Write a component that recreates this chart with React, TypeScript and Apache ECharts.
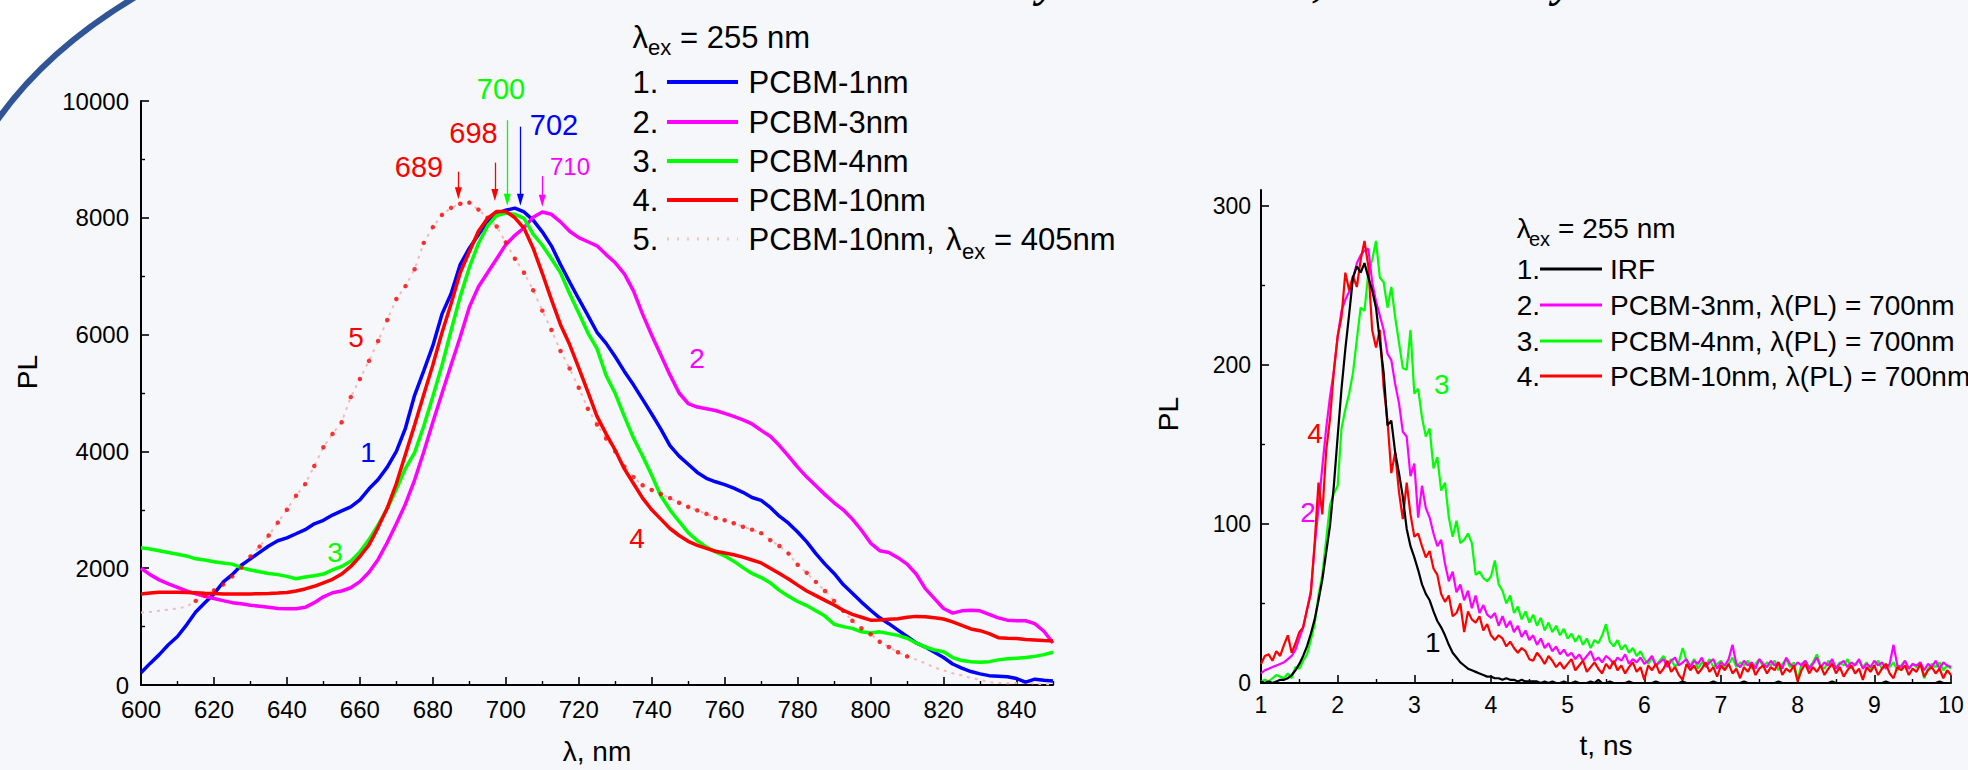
import React, { useEffect, useRef } from "react";
import * as echarts from "echarts";

const FONT = "Liberation Sans, Arial, sans-serif";
const BG = "#f5f7fb";
const BLUE = "#0000ff";
const MAGENTA = "#ff00ff";
const GREEN = "#00ff00";
const RED = "#ff0000";
const BLACK = "#000000";

// ---------- Left panel: PL spectra ----------
const wavelength = [
  600, 602.5, 605, 607.5, 610, 612.5, 615, 617.5, 620, 622.5,
  625, 627.5, 630, 632.5, 635, 637.5, 640, 642.5, 645, 647.5,
  650, 652.5, 655, 657.5, 660, 662.5, 665, 667.5, 670, 672.5,
  675, 677.5, 680, 682.5, 685, 687.5, 690, 692.5, 695, 697.5,
  700, 702.5, 705, 707.5, 710, 712.5, 715, 717.5, 720, 722.5,
  725, 727.5, 730, 732.5, 735, 737.5, 740, 742.5, 745, 747.5,
  750, 752.5, 755, 757.5, 760, 762.5, 765, 767.5, 770, 772.5,
  775, 777.5, 780, 782.5, 785, 787.5, 790, 792.5, 795, 797.5,
  800, 802.5, 805, 807.5, 810, 812.5, 815, 817.5, 820, 822.5,
  825, 827.5, 830, 832.5, 835, 837.5, 840, 842.5, 845, 847.5,
  850,
];
const pcbm1nm = [
  210, 370, 520, 690, 830, 1030, 1250, 1410, 1560, 1760,
  1890, 2050, 2160, 2270, 2380, 2470, 2520, 2590, 2660, 2760,
  2820, 2910, 2980, 3050, 3170, 3360, 3520, 3730, 4000, 4400,
  4960, 5380, 5810, 6350, 6700, 7200, 7480, 7710, 7930, 8070,
  8130, 8165, 8100, 7960, 7760, 7520, 7200, 6900, 6610, 6330,
  6040, 5850, 5620, 5370, 5140, 4890, 4640, 4380, 4100, 3920,
  3780, 3640, 3540, 3480, 3430, 3370, 3300, 3210, 3160, 3040,
  2890, 2770, 2620, 2450, 2250, 2070, 1910, 1720, 1570, 1420,
  1280, 1150, 1050, 940, 830, 720, 650, 560, 470, 360,
  290, 230, 190, 160, 150, 140, 110, 50, 100, 80,
  70,
];
const pcbm3nm = [
  2000, 1890, 1800, 1730, 1670, 1610, 1560, 1520, 1480, 1445,
  1410, 1390, 1365, 1350, 1330, 1310, 1305, 1305, 1330, 1410,
  1510, 1580, 1610, 1665, 1770, 1930, 2150, 2440, 2760, 3100,
  3510, 3990, 4500, 4990, 5480, 5960, 6470, 6820, 7060, 7300,
  7540, 7700, 7830, 8010, 8100, 8060, 7930, 7770, 7660, 7590,
  7520, 7370, 7230, 7040, 6750, 6350, 5990, 5650, 5310, 5000,
  4820, 4760, 4730, 4700, 4650, 4600, 4540, 4470, 4360, 4260,
  4100, 3920, 3730, 3560, 3410, 3260, 3120, 3000, 2840, 2650,
  2430, 2300, 2270, 2180, 2070, 1900, 1650, 1480, 1310, 1230,
  1270, 1280, 1270, 1210, 1150, 1110, 1100, 1100, 1050, 920,
  720,
];
const pcbm4nm = [
  2350, 2330, 2300, 2270, 2240, 2210, 2160, 2140, 2110, 2090,
  2070, 2010, 1970, 1940, 1910, 1890, 1860, 1820, 1850, 1870,
  1900, 1970, 2030, 2120, 2280, 2490, 2740, 3020, 3350, 3710,
  3980, 4430, 4940, 5470, 6070, 6650, 7150, 7560, 7860, 8040,
  8080, 8060, 7990, 7720, 7530, 7300, 7060, 6700, 6370, 6030,
  5760, 5300, 4990, 4600, 4230, 3920, 3590, 3240, 3000, 2800,
  2610, 2470, 2360, 2280, 2210, 2120, 2010, 1910, 1840, 1750,
  1620, 1520, 1430, 1360, 1270, 1180, 1040, 1000, 970, 910,
  890, 910, 880, 850, 800, 720, 650, 600, 570, 470,
  420, 400, 390, 400, 430, 450, 460, 470, 490, 520,
  560,
];
const pcbm10nm = [
  1560, 1575, 1590, 1590, 1590, 1585, 1580, 1570, 1565, 1560,
  1560, 1560, 1560, 1562, 1568, 1575, 1585, 1610, 1645, 1690,
  1750, 1810, 1900, 2030, 2200, 2400, 2700, 3030, 3450, 3950,
  4450, 4970, 5480, 6030, 6530, 7060, 7420, 7770, 7990, 8110,
  8110, 8000, 7820, 7480, 7050, 6600, 6170, 5830, 5430, 5020,
  4600, 4300, 4020, 3700, 3450, 3200, 3000, 2840, 2680, 2560,
  2460, 2390, 2340, 2290, 2260, 2230, 2190, 2140, 2090, 2000,
  1910, 1815, 1710, 1610, 1530, 1450, 1370, 1280, 1210, 1160,
  1110, 1115, 1125, 1135, 1160, 1175, 1170, 1150, 1130, 1080,
  1020, 960, 930, 880, 810, 800, 795, 780, 770, 760,
  755,
];
const pcbm10nmEx405 = [
  1240, 1250, 1270, 1290, 1310, 1340, 1440, 1530, 1620, 1720,
  1860, 2010, 2200, 2370, 2560, 2780, 3000, 3240, 3440, 3750,
  4070, 4300, 4500, 4930, 5240, 5550, 5890, 6250, 6610, 6830,
  7120, 7570, 7840, 8050, 8170, 8240, 8260, 8140, 8000, 7850,
  7580, 7300, 7060, 6760, 6410, 6080, 5720, 5420, 5090, 4730,
  4460, 4220, 4000, 3740, 3560, 3420, 3340, 3270, 3200, 3120,
  3050, 2990, 2930, 2860, 2820, 2770, 2710, 2660, 2600, 2480,
  2380, 2250, 2060, 1920, 1765, 1610, 1440, 1270, 1100, 970,
  870, 740, 650, 560, 490, 435, 370, 300, 250, 200,
  165, 120, 90, 50, 35, 30, 35, 40, 25, 15,
  10,
];
const xMajorLeft = [600, 620, 640, 660, 680, 700, 720, 740, 760, 780, 800, 820, 840];
const xMinorLeft = [610, 630, 650, 670, 690, 710, 730, 750, 770, 790, 810, 830, 850];

// peak arrows (wavelength, arrow top, arrow tip)
const peakLabels = ["689", "698", "700", "702", "710"];
const peakX = [687, 697, 700.4, 704, 710];
const arrowTop = [8790, 8945, 9670, 9560, 8714];
const arrowTip = [8420, 8390, 8310, 8310, 8290];

// ---------- Right panel: PL decay ----------
const time = [
  1, 1.05, 1.1, 1.15, 1.2, 1.25, 1.3, 1.35, 1.4, 1.45, 1.5, 1.55, 1.6, 1.65, 1.7, 1.75, 1.8, 1.85, 1.9, 1.95,
  2, 2.05, 2.1, 2.15, 2.2, 2.25, 2.3, 2.35, 2.4, 2.45, 2.5, 2.55, 2.6, 2.65, 2.7, 2.75, 2.8, 2.85, 2.9, 2.95,
  3, 3.05, 3.1, 3.15, 3.2, 3.25, 3.3, 3.35, 3.4, 3.45, 3.5, 3.55, 3.6, 3.65, 3.7, 3.75, 3.8, 3.85, 3.9, 3.95,
  4, 4.05, 4.1, 4.15, 4.2, 4.25, 4.3, 4.35, 4.4, 4.45, 4.5, 4.55, 4.6, 4.65, 4.7, 4.75, 4.8, 4.85, 4.9, 4.95,
  5, 5.05, 5.1, 5.15, 5.2, 5.25, 5.3, 5.35, 5.4, 5.45, 5.5, 5.55, 5.6, 5.65, 5.7, 5.75, 5.8, 5.85, 5.9, 5.95,
  6, 6.05, 6.1, 6.15, 6.2, 6.25, 6.3, 6.35, 6.4, 6.45, 6.5, 6.55, 6.6, 6.65, 6.7, 6.75, 6.8, 6.85, 6.9, 6.95,
  7, 7.05, 7.1, 7.15, 7.2, 7.25, 7.3, 7.35, 7.4, 7.45, 7.5, 7.55, 7.6, 7.65, 7.7, 7.75, 7.8, 7.85, 7.9, 7.95,
  8, 8.05, 8.1, 8.15, 8.2, 8.25, 8.3, 8.35, 8.4, 8.45, 8.5, 8.55, 8.6, 8.65, 8.7, 8.75, 8.8, 8.85, 8.9, 8.95,
  9, 9.05, 9.1, 9.15, 9.2, 9.25, 9.3, 9.35, 9.4, 9.45, 9.5, 9.55, 9.6, 9.65, 9.7, 9.75, 9.8, 9.85, 9.9, 9.95,
  10,
];
const irf = [
  1, 0, 1, 0, 1, 2, 2, 3, 5, 8, 12, 17, 23, 31, 40, 52, 65, 82, 99, 124,
  155, 185, 210, 232, 255, 262, 258, 264, 255, 247, 236, 215, 195, 162, 165, 145, 132, 117, 97, 86,
  79, 71, 62, 56, 52, 45, 39, 35, 30, 24, 19, 16, 13, 11, 9, 8, 7, 6, 5, 4,
  4, 3, 3, 2, 3, 2, 2, 1, 2, 1, 1, 1, 1, 0, 1, 0, 1, 0, 0, 1,
  0, 0, 1, 0, 0, 0, 1, 0, 2, 0, 0, 1, 0, 0, 0, 0, 1, 0, 0, 0,
  0, 0, 0, 1, 0, 0, 0, 0, 0, 0, 1, 0, 0, 0, 0, 0, 0, 0, 1, 0,
  0, 0, 0, 0, 0, 0, 1, 0, 0, 0, 0, 0, 0, 0, 0, 1, 0, 0, 0, 0,
  0, 0, 0, 0, 0, 0, 0, 0, 0, 1, 0, 0, 0, 0, 0, 0, 0, 0, 0, 0,
  0, 0, 0, 1, 0, 0, 0, 0, 0, 0, 0, 0, 0, 0, 0, 0, 0, 1, 0, 0,
  0,
];
const pl3nm = [
  6, 8, 9, 10, 11, 12, 13, 15, 17, 21, 28, 35, 46, 58, 86, 110, 136, 160, 180, 196,
  218, 234, 241, 246, 254, 264, 269, 272, 273, 252, 240, 231, 222, 207, 203, 188, 176, 158, 155, 130,
  138, 104, 124, 110, 104, 94, 86, 90, 75, 64, 70, 57, 62, 52, 58, 47, 55, 44, 49, 43,
  41, 44, 36, 42, 35, 39, 32, 36, 29, 33, 27, 30, 24, 28, 22, 25, 20, 23, 18, 21,
  17, 19, 15, 18, 14, 17, 20, 14, 16, 13, 17, 15, 12, 16, 14, 18, 12, 15, 13, 16,
  12, 14, 17, 11, 13, 15, 10, 14, 16, 11, 13, 15, 10, 14, 12, 16, 10, 13, 15, 9,
  13, 11, 15, 24, 12, 10, 14, 11, 13, 9, 15, 12, 10, 14, 11, 13, 9, 16, 12, 10,
  13, 11, 14, 9, 12, 16, 10, 13, 11, 15, 9, 12, 14, 10, 13, 11, 15, 9, 12, 10,
  14, 11, 13, 9, 12, 24, 11, 10, 14, 9, 12, 11, 13, 8, 12, 10, 14, 9, 13, 11,
  10,
];
const pl4nm = [
  1, 2, 1, 3, 5, 4, 3, 6, 3, 10, 9, 14, 18, 27, 37, 55, 68, 90, 112, 119,
  124, 160, 172, 182, 195, 216, 236, 234, 258, 266, 278, 255, 252, 236, 249, 230, 214, 198, 197, 222,
  182, 185, 167, 155, 160, 135, 142, 121, 126, 104, 92, 102, 88, 90, 94, 88, 68, 70, 66, 64,
  67, 77, 62, 58, 50, 55, 44, 48, 40, 45, 38, 43, 36, 41, 33, 38, 32, 36, 30, 34,
  28, 31, 26, 30, 24, 28, 22, 27, 25, 30, 37, 26, 23, 27, 21, 24, 19, 22, 17, 20,
  15, 12, 16, 11, 14, 17, 12, 15, 10, 13, 22, 14, 11, 15, 9, 13, 11, 15, 10, 12,
  14, 9, 12, 16, 10, 13, 11, 14, 9, 12, 15, 10, 13, 11, 14, 8, 12, 15, 10, 13,
  2, 12, 14, 10, 13, 18, 11, 9, 14, 12, 10, 13, 11, 15, 9, 12, 14, 10, 13, 8,
  11, 14, 9, 12, 10, 13, 8, 11, 14, 9, 12, 10, 13, 3, 9, 12, 10, 13, 8, 11,
  9,
];
const pl10nm = [
  12, 17, 18, 14, 20, 17, 24, 30, 19, 25, 32, 35, 46, 56, 88, 126, 106, 146, 166, 196,
  218, 230, 258, 247, 256, 249, 266, 278, 262, 222, 211, 222, 186, 165, 132, 145, 120, 103, 126, 106,
  92, 94, 86, 79, 83, 72, 68, 56, 51, 55, 42, 44, 50, 32, 45, 40, 38, 42, 33, 37,
  30, 27, 30, 28, 23, 26, 22, 19, 22, 20, 15, 14, 19, 16, 12, 17, 14, 10, 13, 9,
  12, 15, 8, 11, 14, 7, 10, 13, 9, 6, 12, 9, 14, 8, 11, 6, 10, 13, 7, 10,
  2, 11, 8, 12, 6, 9, 14, 7, 10, 5, 2, 12, 8, 11, 6, 9, 13, 7, 10, 4,
  11, 8, 12, 6, 9, 3, 10, 7, 12, 5, 9, 11, 6, 10, 8, 13, 5, 9, 7, 11,
  1, 8, 12, 6, 10, 7, 11, 5, 9, 12, 6, 10, 4, 8, 11, 6, 9, 2, 10, 7,
  11, 5, 9, 12, 6, 3, 10, 8, 11, 5, 9, 7, 12, 4, 8, 10, 6, 9, 3, 8,
  5,
];
const yMajorRight = [0, 100, 200, 300];
const yMinorRight = [50, 150, 250];

// ---------- helpers ----------
const pairs = (xs: number[], ys: number[]) => xs.map((x, i) => [x, ys[i]]);
const plain = (v: number) => String(v);

const txt = (
  text: string,
  x: number,
  y: number,
  size: number,
  color: string,
  align: string = "left",
  extra: any = {}
) => ({
  type: "text",
  x,
  y,
  silent: true,
  z: 50,
  ...extra,
  style: {
    text,
    fill: color,
    fontSize: size,
    fontFamily: FONT,
    align,
    textAlign: align,
    verticalAlign: "middle",
    textVerticalAlign: "middle",
  },
});

const seg = (x1: number, y1: number, x2: number, y2: number, color: string, w: number, dash?: number[]) => ({
  type: "line",
  silent: true,
  z: 50,
  shape: { x1, y1, x2, y2 },
  style: { stroke: color, lineWidth: w, lineDash: dash || null },
});

const arrows = (idx: number[], color: string) => ({
  silent: true,
  animation: false,
  symbol: ["none", "triangle"],
  symbolSize: [7, 12],
  label: { show: false },
  emphasis: { disabled: true },
  lineStyle: { color, width: 1.3, type: "solid" },
  data: idx.map((i) => [
    { coord: [peakX[i], arrowTop[i]] },
    { coord: [peakX[i], arrowTip[i]] },
  ]),
});

const axisLine = { show: true, onZero: false, lineStyle: { color: BLACK, width: 2 } };
const serifTop = (text: string, x: number) => ({
  type: "text", x, y: -18, silent: true, z: 3,
  style: {
    text, fill: BLACK, fontSize: 44, fontFamily: "Liberation Serif, serif", fontWeight: "bold", fontStyle: "italic",
    align: "center", textAlign: "center", verticalAlign: "middle", textVerticalAlign: "middle",
  },
});

function buildOption(): any {
  const leftRows = [82, 122, 161, 200, 239];
  const leftNames = ["PCBM-1nm", "PCBM-3nm", "PCBM-4nm", "PCBM-10nm"];
  const leftColors = [BLUE, MAGENTA, GREEN, RED];
  const rightRows = [269, 305, 341, 376];
  const rightNames = ["IRF", "PCBM-3nm, λ(PL) = 700nm", "PCBM-4nm, λ(PL) = 700nm", "PCBM-10nm, λ(PL) = 700nm"];
  const rightColors = [BLACK, MAGENTA, GREEN, RED];

  const elements: any[] = [
    // slide decoration: white corner outside the blue arc
    {
      type: "polygon",
      silent: true,
      z: 1,
      shape: { points: [[-4, -4], [137, -4], [-4, 122]] },
      style: { fill: "#ffffff" },
    },
    {
      type: "bezierCurve",
      silent: true,
      z: 2,
      shape: { x1: -4, y1: 122, x2: 137, y2: -4, cpx1: 46, cpy1: 50 },
      style: { fill: BG, stroke: "#2f5597", lineWidth: 6 },
    },
    // cut-off slide title at the top edge
    serifTop("y", 1047),
    serifTop(",", 1319),
    serifTop("y", 1563),

    // left legend
    txt("λ", 632.5, 37, 31, BLACK),
    txt("ex", 648, 47, 22, BLACK),
    txt("= 255 nm", 680, 37, 31, BLACK),
    txt("5.", 632.5, leftRows[4], 31, BLACK),
    seg(667, leftRows[4], 738, leftRows[4], "#f6c2c2", 3, [2, 8]),
    txt("PCBM-10nm,", 748.5, leftRows[4], 31, BLACK),
    txt("λ", 946, leftRows[4], 31, BLACK),
    txt("ex", 962, leftRows[4] + 12, 22, BLACK),
    txt("= 405nm", 994, leftRows[4], 31, BLACK),

    // left peak labels
    txt(peakLabels[0], 419, 167, 29, RED, "center"),
    txt(peakLabels[1], 473.5, 133, 29, RED, "center"),
    txt(peakLabels[2], 501, 89, 29, GREEN, "center"),
    txt(peakLabels[3], 554, 125, 29, BLUE, "center"),
    txt(peakLabels[4], 570, 166, 24, MAGENTA, "center"),

    // left curve numbers
    txt("5", 356, 337, 28, RED, "center"),
    txt("1", 368, 452, 28, BLUE, "center"),
    txt("3", 335, 552, 28, GREEN, "center"),
    txt("4", 637, 538, 28, RED, "center"),
    txt("2", 697, 358, 28, MAGENTA, "center"),

    // left y title
    txt("PL", 27, 372, 28, BLACK, "center", { rotation: Math.PI / 2 }),

    // right legend header
    txt("λ", 1516.7, 228, 28, BLACK),
    txt("ex", 1529, 239, 20, BLACK),
    txt("= 255 nm", 1558, 228, 28, BLACK),

    // right curve numbers
    txt("3", 1441.7, 384, 28, GREEN, "center"),
    txt("4", 1315, 433, 28, RED, "center"),
    txt("2", 1308, 512, 28, MAGENTA, "center"),
    txt("1", 1432.7, 642, 28, BLACK, "center"),

    // right y title
    txt("PL", 1168, 414, 28, BLACK, "center", { rotation: Math.PI / 2 }),
  ];

  leftNames.forEach((name, i) => {
    elements.push(txt(`${i + 1}.`, 632.5, leftRows[i], 31, BLACK));
    elements.push(seg(667, leftRows[i], 738, leftRows[i], leftColors[i], 4));
    elements.push(txt(name, 748.5, leftRows[i], 31, BLACK));
  });
  rightNames.forEach((name, i) => {
    elements.push(txt(`${i + 1}.`, 1516.7, rightRows[i], 28, BLACK));
    elements.push(seg(1540, rightRows[i], 1602, rightRows[i], rightColors[i], 3));
    elements.push(txt(name, 1610, rightRows[i], 28, BLACK));
  });

  const leftLine = (data: number[], color: string, z: number, markLine?: any) => ({
    type: "line",
    xAxisIndex: 0,
    yAxisIndex: 0,
    data: pairs(wavelength, data),
    showSymbol: false,
    silent: true,
    z,
    lineStyle: { color, width: 3.5 },
    ...(markLine ? { markLine } : {}),
  });
  const rightLine = (data: number[], color: string, z: number) => ({
    type: "line",
    xAxisIndex: 2,
    yAxisIndex: 1,
    data: pairs(time, data),
    showSymbol: false,
    silent: true,
    z,
    lineStyle: { color, width: 2.2 },
  });

  return {
    animation: false,
    backgroundColor: BG,
    textStyle: { fontFamily: FONT },
    grid: [
      { left: 141, top: 101, width: 912, height: 591 },
      { left: 1261, top: 190, width: 690, height: 493 },
    ],
    xAxis: [
      {
        gridIndex: 0,
        type: "value",
        position: "bottom",
        min: 600,
        max: 850,
        axisLine,
        axisTick: { show: true, inside: true, length: 8, lineStyle: { color: BLACK, width: 1.6 }, customValues: xMajorLeft },
        axisLabel: { customValues: xMajorLeft, formatter: plain, fontSize: 24, lineHeight: 18, color: BLACK, margin: 15, fontFamily: FONT },
        splitLine: { show: false },
        name: "λ, nm",
        nameLocation: "middle",
        nameGap: 52,
        nameTextStyle: { fontSize: 28, color: BLACK, fontFamily: FONT },
      },
      {
        gridIndex: 0,
        type: "value",
        position: "bottom",
        offset: 0,
        min: 600,
        max: 850,
        axisLine: { show: false, onZero: false },
        axisTick: { show: true, inside: true, length: 4, lineStyle: { color: BLACK, width: 1.4 }, customValues: xMinorLeft },
        axisLabel: { show: false },
        splitLine: { show: false },
      },
      {
        gridIndex: 1,
        type: "value",
        position: "bottom",
        min: 1,
        max: 10,
        interval: 1,
        axisLine,
        axisTick: { show: true, inside: true, length: 8, lineStyle: { color: BLACK, width: 1.6 } },
        minorTick: { show: true, splitNumber: 2, length: 4, lineStyle: { color: BLACK, width: 1.4 } },
        axisLabel: { formatter: plain, fontSize: 23, lineHeight: 18, color: BLACK, margin: 13, fontFamily: FONT },
        splitLine: { show: false },
        name: "t, ns",
        nameLocation: "middle",
        nameGap: 48,
        nameTextStyle: { fontSize: 28, color: BLACK, fontFamily: FONT },
      },
    ],
    yAxis: [
      {
        gridIndex: 0,
        type: "value",
        position: "left",
        min: 0,
        max: 10000,
        interval: 2000,
        axisLine,
        axisTick: { show: true, inside: true, length: 8, lineStyle: { color: BLACK, width: 1.6 } },
        minorTick: { show: true, splitNumber: 2, length: 4, lineStyle: { color: BLACK, width: 1.4 } },
        axisLabel: { formatter: plain, fontSize: 24, lineHeight: 18, color: BLACK, margin: 12, fontFamily: FONT },
        splitLine: { show: false },
      },
      {
        gridIndex: 1,
        type: "value",
        position: "left",
        min: 0,
        max: 310,
        axisLine,
        axisTick: { show: true, inside: true, length: 8, lineStyle: { color: BLACK, width: 1.6 }, customValues: yMajorRight },
        axisLabel: { customValues: yMajorRight, formatter: plain, fontSize: 23, lineHeight: 18, color: BLACK, margin: 10, fontFamily: FONT },
        splitLine: { show: false },
      },
      {
        gridIndex: 1,
        type: "value",
        position: "left",
        offset: 0,
        min: 0,
        max: 310,
        axisLine: { show: false, onZero: false },
        axisTick: { show: true, inside: true, length: 4, lineStyle: { color: BLACK, width: 1.4 }, customValues: yMinorRight },
        axisLabel: { show: false },
        splitLine: { show: false },
      },
    ],
    series: [
      {
        type: "line",
        xAxisIndex: 0,
        yAxisIndex: 0,
        data: pairs(wavelength, pcbm10nmEx405),
        showSymbol: false,
        silent: true,
        z: 2,
        lineStyle: { color: "#f4baba", width: 2, type: [3, 5] },
      },
      leftLine(pcbm1nm, BLUE, 3, arrows([3], BLUE)),
      leftLine(pcbm3nm, MAGENTA, 4, arrows([4], MAGENTA)),
      leftLine(pcbm4nm, GREEN, 5, arrows([2], GREEN)),
      leftLine(pcbm10nm, RED, 6, arrows([0, 1], RED)),
      {
        type: "scatter",
        xAxisIndex: 0,
        yAxisIndex: 0,
        data: pairs(wavelength, pcbm10nmEx405).slice(6, 85),
        symbol: "circle",
        symbolSize: 4.5,
        silent: true,
        z: 7,
        itemStyle: { color: RED },
      },
      rightLine(pl4nm, GREEN, 3),
      rightLine(pl3nm, MAGENTA, 4),
      rightLine(pl10nm, RED, 5),
      rightLine(irf, BLACK, 6),
    ],
    graphic: { elements },
  };
}

export default function App() {
  const ref = useRef<HTMLDivElement>(null);
  useEffect(() => {
    if (!ref.current) return;
    const chart = echarts.init(ref.current, null, { renderer: "svg" });
    chart.setOption(buildOption());
    return () => chart.dispose();
  }, []);
  return (
    <div
      ref={ref}
      style={{ position: "fixed", left: 0, top: 0, width: 1968, height: 770 }}
    />
  );
}
